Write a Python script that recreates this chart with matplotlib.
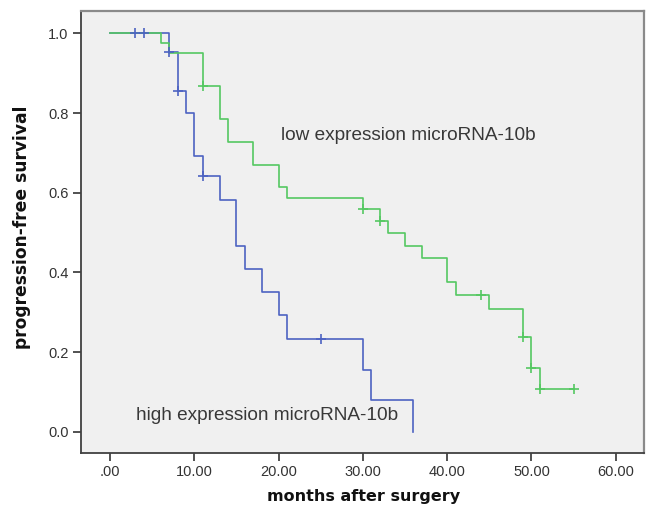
import matplotlib
matplotlib.use("Agg")
import matplotlib.pyplot as plt

# High expression group (blue)
high_times = [0, 7, 8, 9, 10, 11, 13, 15, 16, 18, 20, 21, 30, 31, 36]
high_surv = [1.0, 0.953, 0.855, 0.80, 0.693, 0.643, 0.582, 0.466, 0.408, 0.351, 0.292, 0.233, 0.155, 0.080, 0.0]
high_cens_t = [3, 4, 7, 8, 11, 25]
high_cens_s = [1.0, 1.0, 0.953, 0.855, 0.643, 0.233]

# Low expression group (green)
low_times = [0, 6, 7, 11, 13, 14, 17, 20, 21, 30, 32, 33, 35, 37, 40, 41, 45, 49, 50, 51, 55]
low_surv = [1.0, 0.976, 0.951, 0.867, 0.785, 0.727, 0.670, 0.615, 0.588, 0.558, 0.529, 0.50, 0.467,
            0.437, 0.375, 0.344, 0.309, 0.239, 0.160, 0.107, 0.107]
low_cens_t = [11, 30, 32, 44, 49, 50, 51, 55]
low_cens_s = [0.867, 0.558, 0.529, 0.344, 0.239, 0.160, 0.107, 0.107]

x_ticks = [0, 10, 20, 30, 40, 50, 60]
x_labels = [".00", "10.00", "20.00", "30.00", "40.00", "50.00", "60.00"]
y_ticks = [0.0, 0.2, 0.4, 0.6, 0.8, 1.0]
y_labels = ["0.0", "0.2", "0.4", "0.6", "0.8", "1.0"]

GREEN = "#55c862"
BLUE = "#4d63c2"

fig = plt.figure(figsize=(6.46, 5.13), dpi=100)
ax = fig.add_axes([81/646, 1 - 453/513, (644-81)/646, (453-11)/513])
ax.set_facecolor("#f0f0f0")

ax.step(high_times, high_surv, where="post", color=BLUE, lw=1.2)
ax.step(low_times, low_surv, where="post", color=GREEN, lw=1.2)
ax.plot(low_cens_t, low_cens_s, ls="none", marker="+", ms=6.5, mew=1.2, color=GREEN)
ax.plot(high_cens_t, high_cens_s, ls="none", marker="+", ms=6.5, mew=1.2, color=BLUE)

ax.set_xlim(-3.45, 63.35)
ax.set_ylim(-0.053, 1.056)
ax.set_xticks(x_ticks)
ax.set_xticklabels(x_labels, fontfamily="Liberation Sans", fontsize=10.5, color="#333333")
ax.set_yticks(y_ticks)
ax.set_yticklabels(y_labels, fontfamily="Liberation Sans", fontsize=10.5, color="#333333")
ax.tick_params(direction="out", length=6, width=1.2, color="#333333", pad=3)

for s in ["left", "bottom"]:
    ax.spines[s].set_color("#404040")
    ax.spines[s].set_linewidth(1.3)
for s in ["top", "right"]:
    ax.spines[s].set_color("#8a8a8a")
    ax.spines[s].set_linewidth(1.6)

fig.text(408/646, 1 - 135.7/513, "low expression microRNA-10b", ha="center", va="center",
         fontfamily="Liberation Sans", fontsize=13.7, color="#383838")
fig.text(267/646, 1 - 415/513, "high expression microRNA-10b", ha="center", va="center",
         fontfamily="Liberation Sans", fontsize=13.7, color="#383838")

fig.text(364/646, 1 - 497/513, "months after surgery", ha="center", va="center",
         fontfamily="DejaVu Sans", fontweight="bold", fontsize=11.5, color="#111111")
fig.text(22/646, 1 - 227/513, "progression-free survival", ha="center", va="center", rotation=90,
         fontfamily="DejaVu Sans", fontweight="bold", fontsize=12.3, color="#111111")

fig.savefig("out.png", dpi=100, facecolor="white")
